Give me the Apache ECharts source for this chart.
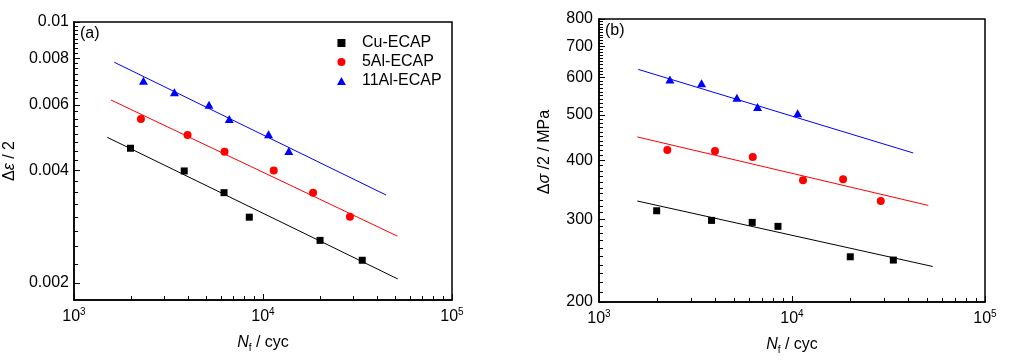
<!DOCTYPE html>
<html><head><meta charset="utf-8">
<script src="https://cdn.jsdelivr.net/npm/echarts@6/dist/echarts.min.js"></script>
<style>html,body{margin:0;padding:0;background:#fff}#c{width:1022px;height:364px}</style>
</head><body><div id="c"></div>
<script>
// ---- data ----
const seriesNames = ['Cu-ECAP', '5Al-ECAP', '11Al-ECAP'];
// cycles to failure
const cuN = [1990, 3830, 6220, 8460, 20040, 33500];
const al5N = [2260, 3990, 6260, 11400, 18400, 28840];
const al11N = [2330, 3400, 5180, 6630, 10700, 13700];
const al11NStress = [2330, 3400, 5180, 6630, 10700];
// (a) strain amplitude
const cuStrain = [0.00459, 0.00399, 0.00349, 0.00300, 0.00260, 0.00230];
const al5Strain = [0.00550, 0.00498, 0.00449, 0.00400, 0.00349, 0.00301];
const al11Strain = [0.00696, 0.00648, 0.00600, 0.00550, 0.00500, 0.00451];
// (b) stress amplitude (MPa)
const cuStress = [312.7, 298.3, 295.4, 289.7, 249.6, 245.6];
const al5Stress = [421, 419, 407, 363, 365, 328];
const al11Stress = [595, 584, 544, 520, 504];
// fitted lines (end points)
const cuFitAN = [1500, 51600], cuFitA = [0.00491, 0.00205];
const al5FitAN = [1570, 51350], al5FitA = [0.00618, 0.00267];
const al11FitAN = [1634, 44770], al11FitA = [0.0078, 0.00344];
const cuFitBN = [1579, 53590], cuFitB = [328, 238];
const al5FitBN = [1579, 50830], al5FitB = [449, 321];
const al11FitBN = [1598, 42500], al11FitB = [625, 415];
// tick values
const xMajor = [1000, 10000, 100000];
const xMinor = [2000,3000,4000,5000,6000,7000,8000,9000,20000,30000,40000,50000,60000,70000,80000,90000];
const yMajorA = [0.002, 0.004, 0.006, 0.008, 0.01];
const yMajorB = [200, 300, 400, 500, 600, 700, 800];
const yMinorA = [];
for (let k = 9; k < 40; k++) { if (k % 8 !== 0) yMinorA.push(+(k * 0.00025).toFixed(5)); }
const yMinorB = [];
for (let k = 21; k < 80; k++) { if (k % 10 !== 0) yMinorB.push(k * 10); }

// ---- styles ----
const FONT = '"Liberation Sans", Arial, sans-serif';
const colors = ['#000000', '#ff0000', '#0000ff'];
const symbols = ['rect', 'circle', 'triangle'];
const symSizes = [7, 8, [9, 8]];

function xAxes(gi) {
  return [{
    type: 'log', logBase: 10, gridIndex: gi, min: 1000, max: 100000, position: 'bottom',
    axisLine: { show: true, lineStyle: { color: '#000', width: 1.5 } },
    axisTick: { show: true, inside: true, length: 6, customValues: xMajor, lineStyle: { color: '#000', width: 1 } },
    axisLabel: {
      customValues: xMajor, margin: 7, color: '#000', fontSize: 16, fontFamily: FONT,
      formatter: v => '10{sup|' + Math.round(Math.log10(v)) + '}',
      rich: { sup: { fontSize: 10, fontFamily: FONT, color: '#000', padding: [0, 0, 9, 0] } }
    },
    splitLine: { show: false },
    name: '{i|N}{sub|f} / cyc', nameLocation: 'middle', nameGap: 33,
    nameTextStyle: {
      fontSize: 16, fontFamily: FONT, color: '#000',
      rich: { i: { fontStyle: 'italic', fontSize: 16, fontFamily: FONT, color: '#000' },
              sub: { fontSize: 10, fontFamily: FONT, color: '#000', padding: [10, 0, 0, 0] } }
    }
  }, {
    type: 'log', logBase: 10, gridIndex: gi, min: 1000, max: 100000, position: 'bottom',
    axisLine: { show: false },
    axisTick: { show: true, inside: true, length: 4, customValues: xMinor, lineStyle: { color: '#000', width: 1 } },
    axisLabel: { show: false }, splitLine: { show: false }
  }];
}

function yAxes(gi, min, max, major, minor, name, gap, margin, namePad) {
  return [{
    type: 'log', logBase: 10, gridIndex: gi, min: min, max: max, position: 'left',
    axisLine: { show: true, lineStyle: { color: '#000', width: 1.5 } },
    axisTick: { show: true, inside: true, length: 6, customValues: major, lineStyle: { color: '#000', width: 1 } },
    axisLabel: { customValues: major, margin: margin, color: '#000', fontSize: 16, fontFamily: FONT, formatter: v => String(v) },
    splitLine: { show: false },
    name: name, nameLocation: 'middle', nameGap: gap,
    nameTextStyle: {
      fontSize: 16, fontFamily: FONT, color: '#000', padding: namePad,
      rich: { i: { fontStyle: 'italic', fontSize: 16, fontFamily: FONT, color: '#000' } }
    }
  }, {
    type: 'log', logBase: 10, gridIndex: gi, min: min, max: max, position: 'left',
    axisLine: { show: false },
    axisTick: { show: true, inside: true, length: 4, customValues: minor, lineStyle: { color: '#000', width: 1 } },
    axisLabel: { show: false }, splitLine: { show: false }
  }];
}

const pair = (xs, ys) => xs.map((x, i) => [x, ys[i]]);

function scatter(i, xs, ys, xi, yi) {
  return { name: seriesNames[i], type: 'scatter', xAxisIndex: xi, yAxisIndex: yi,
    symbol: symbols[i], symbolSize: symSizes[i], itemStyle: { color: colors[i], opacity: 1 },
    data: pair(xs, ys), z: 5 };
}
function fit(i, xs, ys, xi, yi) {
  return { name: 'fit-' + i, type: 'line', xAxisIndex: xi, yAxisIndex: yi, showSymbol: false,
    lineStyle: { color: colors[i], width: 1 }, data: pair(xs, ys), z: 3, silent: true };
}

const option = {
  animation: false,
  backgroundColor: '#fff',
  textStyle: { fontFamily: FONT },
  grid: [
    { left: 74, top: 22, width: 378, height: 278, show: true, borderColor: '#000', borderWidth: 1.5, backgroundColor: 'transparent' },
    { left: 599, top: 19, width: 386, height: 283, show: true, borderColor: '#000', borderWidth: 1.5, backgroundColor: 'transparent' }
  ],
  title: [
    { text: '(a)', left: 80, top: 26, padding: 0, textStyle: { fontSize: 16, fontWeight: 'normal', color: '#000', fontFamily: FONT } },
    { text: '(b)', left: 605, top: 23, padding: 0, textStyle: { fontSize: 16, fontWeight: 'normal', color: '#000', fontFamily: FONT } }
  ],
  legend: {
    orient: 'vertical', left: 332, top: 30, itemWidth: 31, itemHeight: 8, itemGap: 3,
    symbolKeepAspect: true,
    textStyle: { fontSize: 16, color: '#000', fontFamily: FONT },
    data: [
      { name: 'Cu-ECAP', icon: 'path://M0,0h10v10h-10z' },
      { name: '5Al-ECAP', icon: 'circle' },
      { name: '11Al-ECAP', icon: 'path://M5,0L10,9H0Z' }
    ]
  },
  xAxis: [].concat(xAxes(0), xAxes(1)),
  yAxis: [].concat(
    yAxes(0, 0.0018, 0.01, yMajorA, yMinorA, '\u0394{i|\u03b5} / 2', 56, 5, [0, 0, 0, 0]),
    yAxes(1, 200, 800, yMajorB, yMinorB, '\u0394{i|\u03c3} /2 / MPa', 46, 6, [0, 0, 0, 17])
  ),
  series: [
    fit(0, cuFitAN, cuFitA, 0, 0), fit(1, al5FitAN, al5FitA, 0, 0), fit(2, al11FitAN, al11FitA, 0, 0),
    scatter(0, cuN, cuStrain, 0, 0), scatter(1, al5N, al5Strain, 0, 0), scatter(2, al11N, al11Strain, 0, 0),
    fit(0, cuFitBN, cuFitB, 2, 2), fit(1, al5FitBN, al5FitB, 2, 2), fit(2, al11FitBN, al11FitB, 2, 2),
    scatter(0, cuN, cuStress, 2, 2), scatter(1, al5N, al5Stress, 2, 2), scatter(2, al11NStress, al11Stress, 2, 2)
  ]
};
const chart = echarts.init(document.getElementById('c'), null, { renderer: 'canvas' });
chart.setOption(option);
</script>
</body></html>
